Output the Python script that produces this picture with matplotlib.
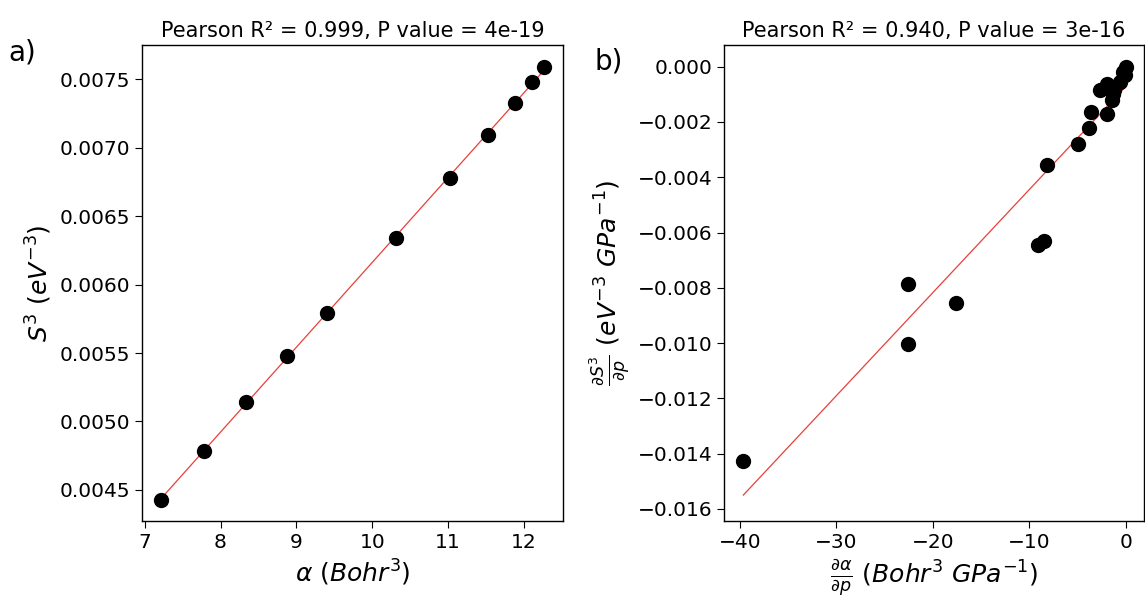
import numpy as np
import matplotlib
matplotlib.use("Agg")
import matplotlib.pyplot as plt

# panel a: polarizability vs softness cubed
alpha = [7.21, 7.78, 8.33, 8.88, 9.40, 10.31, 11.02, 11.53, 11.88, 12.11, 12.26]
s3 = [0.004427, 0.004787, 0.005140, 0.005479, 0.005790, 0.006341, 0.006779, 0.007096, 0.007325, 0.007480, 0.007588]

# panel b: pressure derivatives
dalpha = [-39.65, -22.63, -22.63, -17.62, -9.15, -8.46, -8.15, -4.95, -3.78, -3.57,
          -1.97, -2.65, -1.92, -1.48, -1.31, -1.20, -0.62, -0.28, -0.10, 0.05]
ds3 = [-0.01426, -0.00787, -0.01003, -0.00854, -0.00644, -0.00630, -0.00356, -0.00279, -0.00220, -0.00165,
       -0.00170, -0.00085, -0.00064, -0.00120, -0.00100, -0.00085, -0.00054, -0.00018, -0.00030, -0.00002]

titles = ["Pearson R\u00b2 = 0.999, P value = 4e-19",
          "Pearson R\u00b2 = 0.940, P value = 3e-16"]

plt.rcParams['axes.linewidth'] = 1.0
plt.rcParams['xtick.major.size'] = 5
plt.rcParams['ytick.major.size'] = 5
plt.rcParams['mathtext.fontset'] = 'dejavusans'

fig = plt.figure(figsize=(11.45, 5.98), dpi=100)
ax1 = fig.add_axes([0.124, 0.1288, 0.3675, 0.7959])
ax2 = fig.add_axes([0.6326, 0.1288, 0.3665, 0.7959])


def panel(ax, x, y, title):
    x = np.array(x)
    y = np.array(y)
    ax.scatter(x, y, s=100, color='black', zorder=3)
    m, b = np.polyfit(x, y, 1)
    xx = np.array([x.min(), x.max()])
    ax.plot(xx, m * xx + b, color='#e8403a', lw=0.9, zorder=2)
    ax.set_title(title, fontsize=15)
    ax.tick_params(labelsize=14.5)


panel(ax1, alpha, s3, titles[0])
panel(ax2, dalpha, ds3, titles[1])

ax1.set_xlim(6.965, 12.51)
ax1.set_ylim(0.004273, 0.007751)
ax1.set_xticks([7, 8, 9, 10, 11, 12])
ax1.set_yticks(np.arange(0.0045, 0.00751, 0.0005))
ax1.set_xlabel(r'$\alpha\ (Bohr^{3})$', fontsize=18)
ax1.set_ylabel(r'$S^{3}\ (eV^{-3})$', fontsize=18)

ax2.set_xlim(-41.62, 1.87)
ax2.set_ylim(-0.016434, 0.000784)
ax2.set_xticks([-40, -30, -20, -10, 0])
ax2.set_yticks(np.arange(-0.016, 0.0001, 0.002))
ax2.yaxis.set_major_formatter(matplotlib.ticker.FuncFormatter(
    lambda v, pos: ('%.3f' % v).replace('-', '\u2212') if abs(v) > 1e-9 else '0.000'))
ax2.set_xlabel(r'$\frac{\partial \alpha}{\partial p}\ (Bohr^{3}\ GPa^{-1})$', fontsize=18)
ax2.set_ylabel(r'$\frac{\partial S^{3}}{\partial p}\ (eV^{-3}\ GPa^{-1})$', fontsize=18)

fig.text(0.019, 0.913, 'a)', fontsize=20, ha='center', va='center')
fig.text(0.532, 0.897, 'b)', fontsize=20, ha='center', va='center')

fig.savefig('out.png', dpi=100)
